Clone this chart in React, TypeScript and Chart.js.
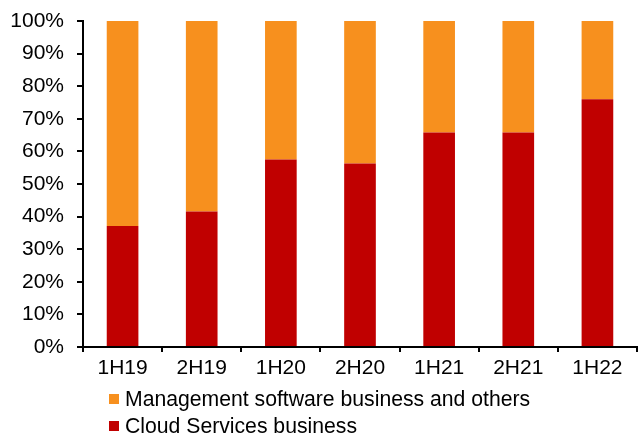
import React, { useEffect, useRef } from "react";
import { Chart, registerables } from "chart.js";

Chart.register(...registerables);

const categories = ["1H19", "2H19", "1H20", "2H20", "1H21", "2H21", "1H22"];
const cloudServices = [37.1, 41.6, 57.5, 56.3, 65.8, 65.8, 76.0];
const managementSoftware = [62.9, 58.4, 42.5, 43.7, 34.2, 34.2, 24.0];
const seriesNames = ["Management software business and others", "Cloud Services business"];
const seriesColors = ["#F7901E", "#C00000"];

export default function App() {
  const ref = useRef<HTMLCanvasElement | null>(null);

  useEffect(() => {
    if (!ref.current) return;
    const chart = new Chart(ref.current, {
      type: "bar",
      data: {
        labels: categories,
        datasets: [
          {
            label: seriesNames[1],
            data: cloudServices,
            backgroundColor: seriesColors[1],
            barPercentage: 0.4,
            categoryPercentage: 1,
          },
          {
            label: seriesNames[0],
            data: managementSoftware,
            backgroundColor: seriesColors[0],
            barPercentage: 0.4,
            categoryPercentage: 1,
          },
        ],
      },
      options: {
        responsive: false,
        animation: false,
        layout: { padding: { top: 21, right: 1, bottom: 60, left: 0 } },
        plugins: { legend: { display: false }, tooltip: { enabled: false } },
        scales: {
          x: {
            stacked: true,
            afterFit: (s: any) => {
              s.height = 30;
            },
            grid: {
              display: true,
              drawOnChartArea: false,
              drawTicks: true,
              tickLength: 5,
              color: "#000",
              lineWidth: 2,
              offset: true,
            },
            border: { color: "#000", width: 2 },
            ticks: {
              color: "#000",
              padding: 4,
              font: { family: "Liberation Sans, Arial, sans-serif", size: 21 },
            },
          },
          y: {
            stacked: true,
            min: 0,
            max: 100,
            afterFit: (s: any) => {
              s.width = 83;
              s.paddingTop = 0;
            },
            grid: {
              display: true,
              drawOnChartArea: false,
              drawTicks: true,
              tickLength: 6,
              color: "#000",
              lineWidth: 2,
            },
            border: { color: "#000", width: 2 },
            ticks: {
              stepSize: 10,
              color: "#000",
              padding: 13,
              callback: (v: any) => v + "%",
              font: { family: "Liberation Sans, Arial, sans-serif", size: 21 },
            },
          },
        },
      },
    });
    return () => chart.destroy();
  }, []);

  const legendItem = (i: number, top: number) => (
    <div
      style={{
        position: "absolute",
        left: 109,
        top,
        display: "flex",
        alignItems: "center",
        fontFamily: "Liberation Sans, Arial, sans-serif",
        fontSize: 21.2,
        color: "#000",
        whiteSpace: "nowrap",
        lineHeight: "24px",
      }}
    >
      <span
        style={{
          display: "inline-block",
          width: 10,
          height: 10,
          background: seriesColors[i],
          marginRight: 6,
        }}
      />
      <span>{seriesNames[i]}</span>
    </div>
  );

  return (
    <div style={{ position: "absolute", left: 0, top: 0, width: 638, height: 437, background: "#fff" }}>
      <canvas ref={ref} width={638} height={437} style={{ display: "block" }} />
      {legendItem(0, 387)}
      {legendItem(1, 414)}
    </div>
  );
}
